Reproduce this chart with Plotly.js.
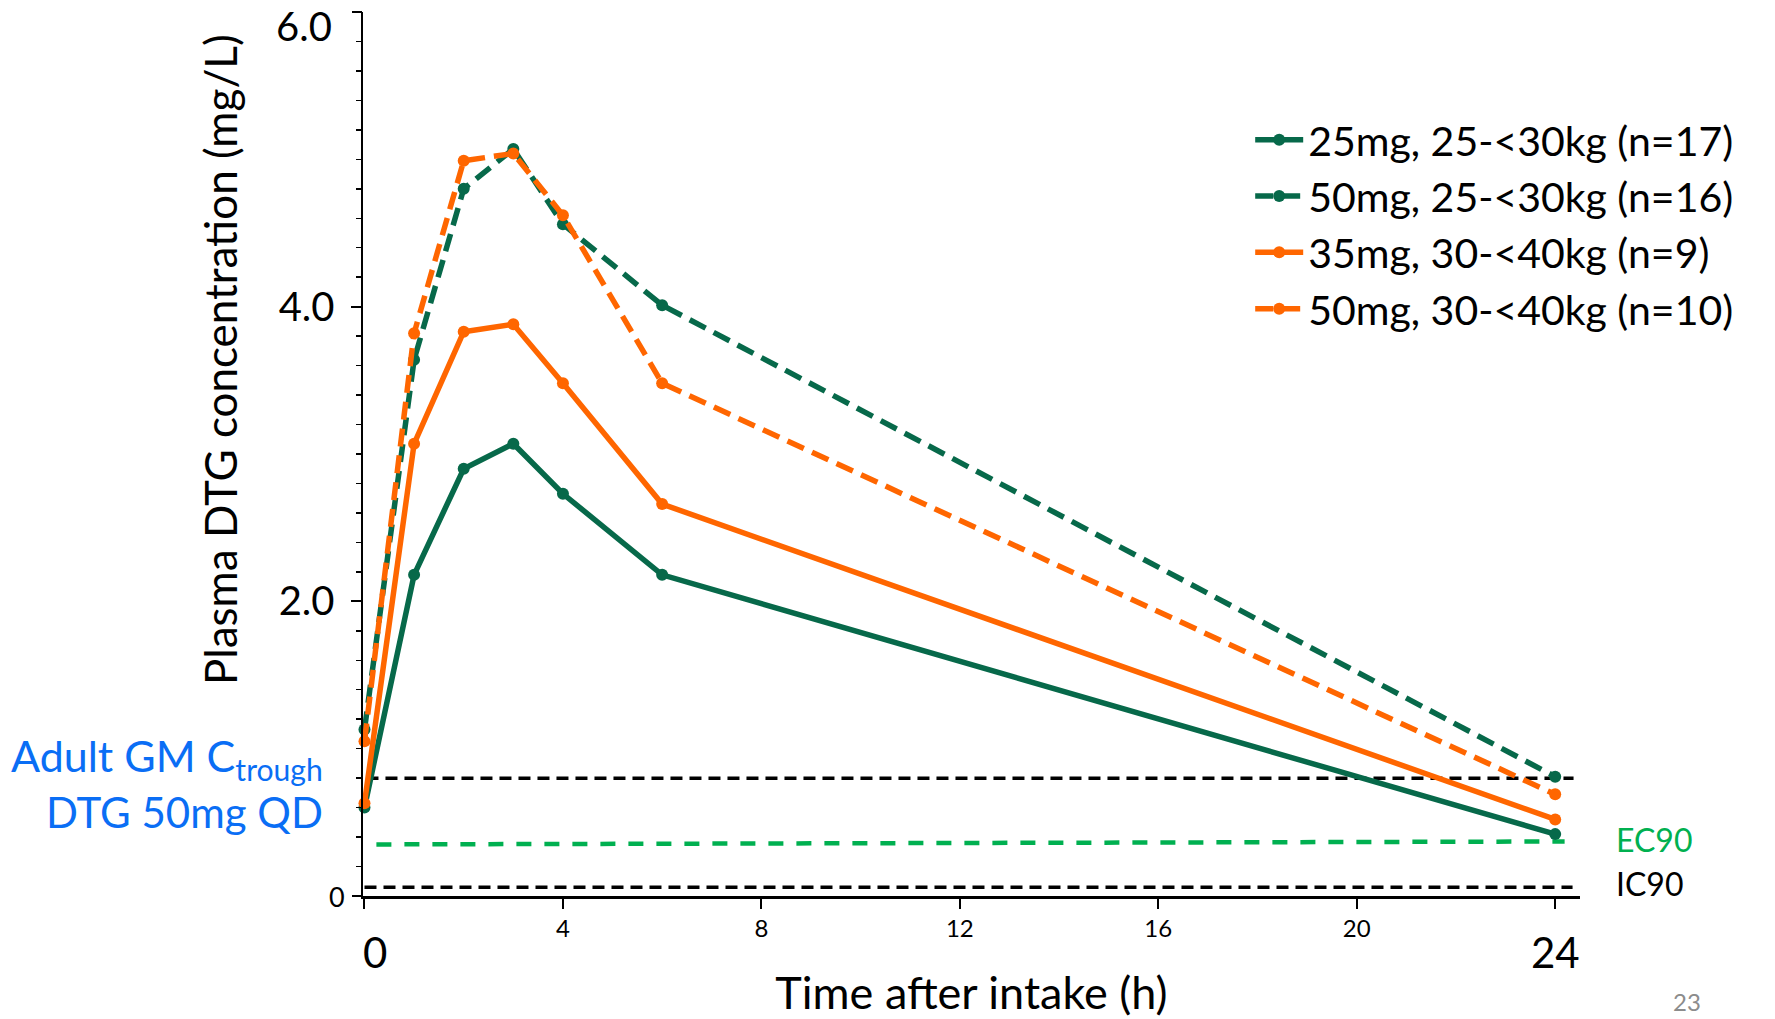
<!DOCTYPE html>
<html>
<head>
<meta charset="utf-8">
<script src="https://cdn.plot.ly/plotly-3.0.1.min.js"></script>
<style>
  html, body { margin: 0; padding: 0; background: #ffffff; }
  #chart { width: 1775px; height: 1019px; }
</style>
</head>
<body>
<div id="chart"></div>
<script>
// Sampling times after intake (h)
const hours = [0, 1, 2, 3, 4, 6, 24];

// Geometric mean plasma DTG concentrations (mg/L) per dose / weight band
const conc25mg_25to30kg = [0.60, 2.18, 2.90, 3.07, 2.73, 2.18, 0.42];
const conc50mg_25to30kg = [1.13, 3.64, 4.80, 5.07, 4.56, 4.01, 0.81];
const conc35mg_30to40kg = [0.63, 3.07, 3.83, 3.88, 3.48, 2.66, 0.52];
const conc50mg_30to40kg = [1.05, 3.82, 4.99, 5.04, 4.62, 3.48, 0.69];

const seriesNames = [
  '25mg, 25-&lt;30kg (n=17)',
  '50mg, 25-&lt;30kg (n=16)',
  '35mg, 30-&lt;40kg (n=9)',
  '50mg, 30-&lt;40kg (n=10)'
];

// Reference levels (mg/L) and the time span each dashed line covers (h)
const adultCtroughLevel = [0.80, 0.80];
const adultCtroughSpan = [0.04, 24.37];
const ec90Level = [0.35, 0.37];
const ec90Span = [0.24, 24.19];
const ic90Level = [0.06, 0.06];
const ic90Span = [0.0, 24.35];

// Axis ticks
const xTickVals = [4, 8, 12, 16, 20];
const xEndTickVals = [0, 24];
const xEndTickText = ['0', '24'];
const yTickVals = [2, 4];
const yTickText = ['2.0', '4.0'];
const yEndTickVals = [0, 6];
const yEndTickText = ['0', '6.0'];

const GREEN = '#07694a';
const ORANGE = '#ff6600';
const EC_GREEN = '#00b050';
const BLUE = '#0a6ef5';
const FONT = 'Lato, "Open Sans", sans-serif';

function refLine(xs, ys, color, width, dash, yaxis) {
  return {
    x: xs, y: ys, mode: 'lines', type: 'scatter', yaxis: yaxis || 'y',
    line: { color: color, width: width, dash: dash },
    showlegend: false, hoverinfo: 'skip', cliponaxis: false
  };
}

function series(ys, name, color, dash, group) {
  return {
    x: hours, y: ys, name: name, type: 'scatter', mode: 'lines+markers',
    line: { color: color, width: 5.5, dash: dash },
    marker: { color: color, size: 12 },
    legendgroup: group, cliponaxis: false
  };
}

const data = [
  refLine(adultCtroughSpan, adultCtroughLevel, '#000000', 3.5, '12px,7px'),
  refLine(ec90Span, ec90Level, EC_GREEN, 4.5, '15px,13px'),
  // IC90 sits on the overlay axis that carries the long end ticks at 0 and 6
  refLine(ic90Span, ic90Level, '#000000', 3.5, '12px,7px', 'y2'),
  series(conc25mg_25to30kg, seriesNames[0], GREEN, 'solid', 'g1'),
  series(conc50mg_25to30kg, seriesNames[1], GREEN, '18px,9px', 'g2'),
  series(conc35mg_30to40kg, seriesNames[2], ORANGE, 'solid', 'g3'),
  series(conc50mg_30to40kg, seriesNames[3], ORANGE, '18px,9px', 'g4')
];

// Large end labels on the time axis
const xEndLabels = xEndTickVals.map((v, i) => ({
  text: xEndTickText[i], xref: 'x', yref: 'paper', x: v, y: -0.063,
  xanchor: 'center', yanchor: 'middle', xshift: i === 0 ? 11 : 0,
  showarrow: false, font: { family: FONT, size: 42, color: '#000000' }
}));

// End labels on the concentration axis: small "0" at the origin, "6.0" set just below the top tick
const yEndLabels = yEndTickVals.map((v, i) => ({
  text: yEndTickText[i], xref: 'paper', yref: 'y', x: i === 0 ? -0.013 : -0.024, y: v,
  xanchor: 'right', yanchor: 'middle', yshift: i === 0 ? 0 : -14,
  showarrow: false, font: { family: FONT, size: i === 0 ? 27 : 40, color: '#000000' }
}));

const layout = {
  width: 1775, height: 1019,
  margin: { l: 363, r: 195, t: 12, b: 123 },
  paper_bgcolor: '#ffffff', plot_bgcolor: '#ffffff',
  font: { family: FONT, color: '#000000' },
  showlegend: true,
  legend: {
    x: 0.729, y: 0.893, xanchor: 'left', yanchor: 'top',
    font: { family: FONT, size: 41, color: '#000000' },
    itemwidth: 48,
    bgcolor: 'rgba(0,0,0,0)', tracegroupgap: 0
  },
  xaxis: {
    range: [-0.03, 24.5],
    showgrid: false, zeroline: false,
    showline: true, linecolor: '#000000', linewidth: 2.5,
    ticks: 'outside', ticklen: 10, tickwidth: 2, tickcolor: '#000000',
    tickmode: 'array', tickvals: xTickVals,
    tickfont: { family: FONT, size: 24, color: '#000000' },
    minor: { tickmode: 'array', tickvals: xEndTickVals, ticks: 'outside', ticklen: 10, tickwidth: 2, tickcolor: '#000000' },
    title: { text: 'Time after intake (h)', font: { family: FONT, size: 45, color: '#000000' }, standoff: 38 }
  },
  yaxis: {
    range: [0, 6],
    showgrid: false, zeroline: false,
    showline: true, linecolor: '#000000', linewidth: 2.5,
    ticks: 'outside', ticklen: 10, tickwidth: 2, tickcolor: '#000000',
    tickmode: 'array', tickvals: yTickVals, ticktext: yTickText,
    ticklabelstandoff: 8,
    tickfont: { family: FONT, size: 40, color: '#000000' },
    minor: { dtick: 0.2, ticks: 'outside', ticklen: 5, tickwidth: 1.5, tickcolor: '#000000' }
  },
  yaxis2: {
    overlaying: 'y', side: 'left', matches: 'y', range: [0, 6],
    showgrid: false, zeroline: false, showline: false,
    ticks: 'outside', ticklen: 10, tickwidth: 2, tickcolor: '#000000',
    tickmode: 'array', tickvals: yEndTickVals, showticklabels: false
  },
  annotations: xEndLabels.concat(yEndLabels, [
    { text: 'Plasma DTG concentration (mg/L)', xref: 'paper', yref: 'paper', x: -0.117, y: 0.607,
      xanchor: 'center', yanchor: 'middle', textangle: -90, showarrow: false,
      font: { family: FONT, size: 44, color: '#000000' } },
    { text: 'Adult GM C<sub>trough</sub>', xref: 'paper', yref: 'paper', x: -0.031, y: 0.155,
      xanchor: 'right', yanchor: 'middle', showarrow: false, font: { family: FONT, size: 43, color: BLUE } },
    { text: 'DTG 50mg QD', xref: 'paper', yref: 'paper', x: -0.031, y: 0.095,
      xanchor: 'right', yanchor: 'middle', showarrow: false, font: { family: FONT, size: 42, color: BLUE } },
    { text: 'EC90', xref: 'paper', yref: 'paper', x: 1.028, y: 0.064,
      xanchor: 'left', yanchor: 'middle', showarrow: false, font: { family: FONT, size: 32, color: EC_GREEN } },
    { text: 'IC90', xref: 'paper', yref: 'paper', x: 1.028, y: 0.014,
      xanchor: 'left', yanchor: 'middle', showarrow: false, font: { family: FONT, size: 32, color: '#000000' } },
    { text: '23', xref: 'paper', yref: 'paper', x: 1.088, y: -0.119,
      xanchor: 'center', yanchor: 'middle', showarrow: false, font: { family: FONT, size: 24, color: '#8c8c8c' } }
  ])
};

Plotly.newPlot('chart', data, layout, { displayModeBar: false, staticPlot: true });
</script>
</body>
</html>
